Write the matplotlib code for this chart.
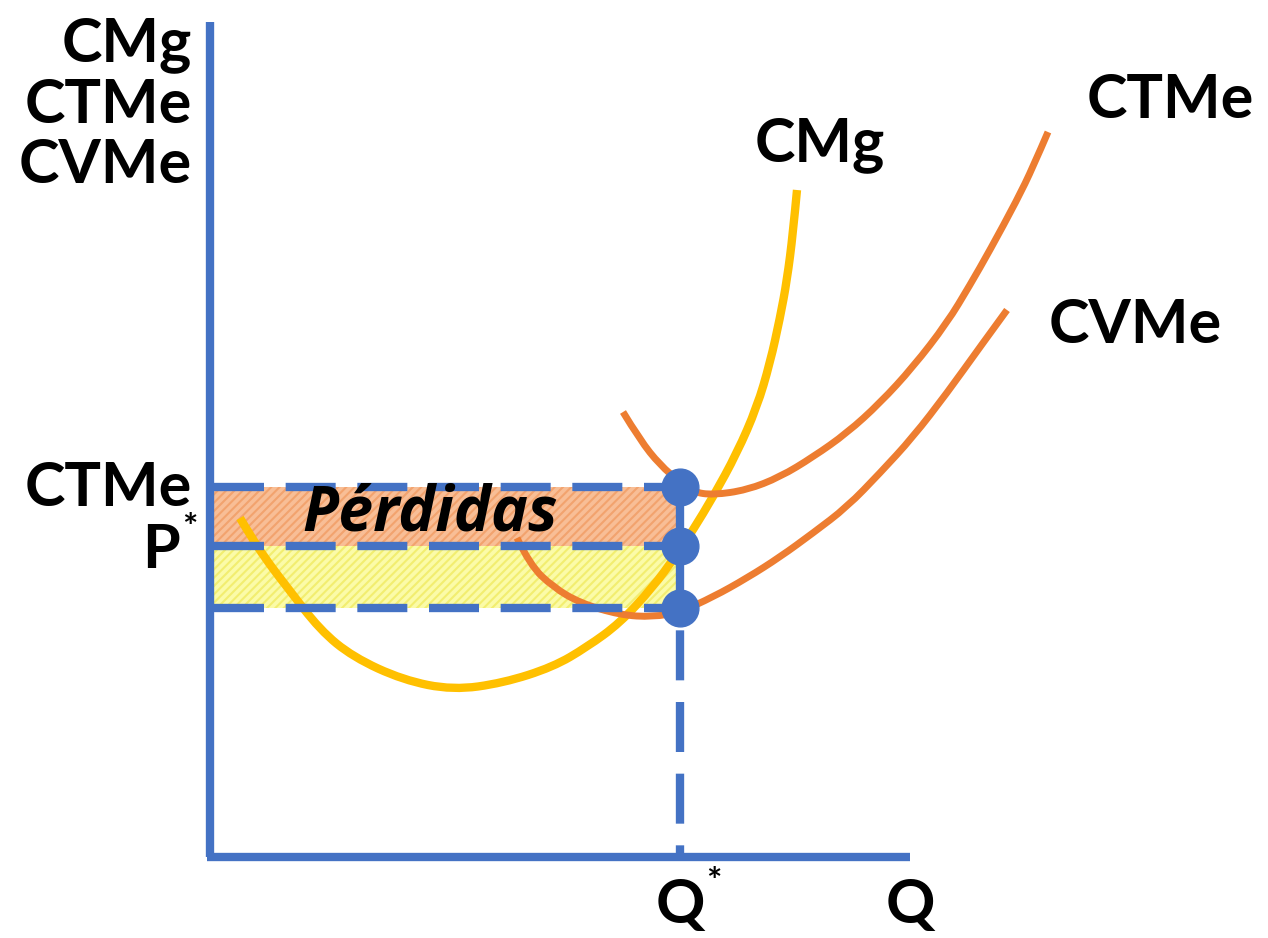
import numpy as np
import matplotlib.pyplot as plt
from matplotlib.patches import Rectangle, PathPatch
from matplotlib.path import Path

# Curvas (coordenadas en pixeles: x a la derecha, y hacia abajo)
cmg_x = [240, 253, 270, 287, 320, 353, 403, 453, 503, 553, 587, 620, 653, 675,
         693, 713, 737, 757, 770, 780, 787, 793, 797]
cmg_y = [518, 540, 565, 587, 630, 657, 680, 690, 683, 667, 647, 623, 587, 557,
         530, 497, 453, 407, 363, 318, 280, 233, 190]

ctme_x = [623, 640, 660, 680, 693, 713, 747, 780, 813, 847, 880, 913, 947, 970,
          990, 1017, 1033, 1048]
ctme_y = [412, 440, 465, 482, 492, 495, 490, 477, 457, 433, 403, 367, 323, 285,
          250, 200, 167, 132]

cvme_x = [517, 530, 553, 580, 620, 653, 680, 713, 747, 780, 813, 847, 880, 913,
          947, 980, 1007]
cvme_y = [538, 565, 587, 603, 615, 617, 612, 597, 578, 557, 533, 507, 473, 437,
          393, 347, 310]

# Niveles del grafico
q_star = 680
y_ctme = 487
y_p = 546
y_cvme = 608

azul = '#4472C4'
amarillo = '#FFC000'
naranja = '#ED7D31'


def curva_suave(ax, xs, ys, color, lw):
    # curva cuadratica que pasa por los puntos medios, con los puntos leidos como control
    pts = list(zip(xs, ys))
    verts = [pts[0]]
    codes = [Path.MOVETO]
    for i in range(1, len(pts) - 1):
        mid = ((pts[i][0] + pts[i + 1][0]) / 2, (pts[i][1] + pts[i + 1][1]) / 2)
        if i == len(pts) - 2:
            mid = pts[-1]
        verts += [pts[i], mid]
        codes += [Path.CURVE3, Path.CURVE3]
    ax.add_patch(PathPatch(Path(verts, codes), facecolor='none', edgecolor=color,
                           lw=lw, capstyle='butt', zorder=3))


plt.rcParams['hatch.linewidth'] = 1.5

fig = plt.figure(figsize=(12.68, 9.38), dpi=100)
ax = fig.add_axes([0, 0, 1, 1])
ax.set_xlim(0, 1268)
ax.set_ylim(938, 0)
ax.axis('off')

# Areas rayadas
ax.add_patch(Rectangle((214, y_ctme), q_star - 214, y_p - y_ctme,
                       facecolor='#F8BE96', edgecolor='#F2A36E', hatch='////', lw=0, zorder=1))
ax.add_patch(Rectangle((214, y_p), q_star - 214, y_cvme - y_p,
                       facecolor='#FBFBA8', edgecolor='#F2EE70', hatch='////', lw=0, zorder=1))

# Curvas
curva_suave(ax, cmg_x, cmg_y, amarillo, 6)
curva_suave(ax, ctme_x, ctme_y, naranja, 5)
curva_suave(ax, cvme_x, cvme_y, naranja, 5)

# Ejes
ax.plot([210, 210], [22, 857], color=azul, lw=6, solid_capstyle='butt', zorder=4)
ax.plot([207, 910], [857, 857], color=azul, lw=6, solid_capstyle='butt', zorder=4)

# Lineas punteadas y puntos
for yy in [y_ctme, y_p, y_cvme]:
    ax.plot([214, q_star], [yy, yy], color=azul, lw=6, ls=(0, (6, 2.6)), zorder=4)
ax.plot([q_star, q_star], [y_ctme, 857], color=azul, lw=6, ls=(0, (6, 2.6)), zorder=4)
ax.scatter([q_star] * 3, [y_ctme, y_p, y_cvme], s=700, color=azul, zorder=5)

fuente = dict(family='Lato', weight='bold', color='black')
ax.text(192, 45, 'CMg', ha='right', va='center', fontsize=44, **fuente)
ax.text(192, 105, 'CTMe', ha='right', va='center', fontsize=44, **fuente)
ax.text(192, 165, 'CVMe', ha='right', va='center', fontsize=44, **fuente)

ax.text(192, 488, 'CTMe', ha='right', va='center', fontsize=44, **fuente)
ax.text(180, 550, 'P', ha='right', va='center', fontsize=44, **fuente)
ax.text(182, 528, '*', ha='left', va='center', fontsize=26, **fuente)

ax.text(680, 905, 'Q', ha='center', va='center', fontsize=44, **fuente)
ax.text(706, 883, '*', ha='left', va='center', fontsize=26, **fuente)
ax.text(910, 905, 'Q', ha='center', va='center', fontsize=44, **fuente)

ax.text(820, 145, 'CMg', ha='center', va='center', fontsize=44, **fuente)
ax.text(1170, 100, 'CTMe', ha='center', va='center', fontsize=44, **fuente)
ax.text(1135, 325, 'CVMe', ha='center', va='center', fontsize=44, **fuente)

ax.text(430, 514, 'Pérdidas', ha='center', va='center', fontsize=45,
        family='Open Sans', weight='bold', style='italic', zorder=6)

fig.savefig('out.png', dpi=100)
